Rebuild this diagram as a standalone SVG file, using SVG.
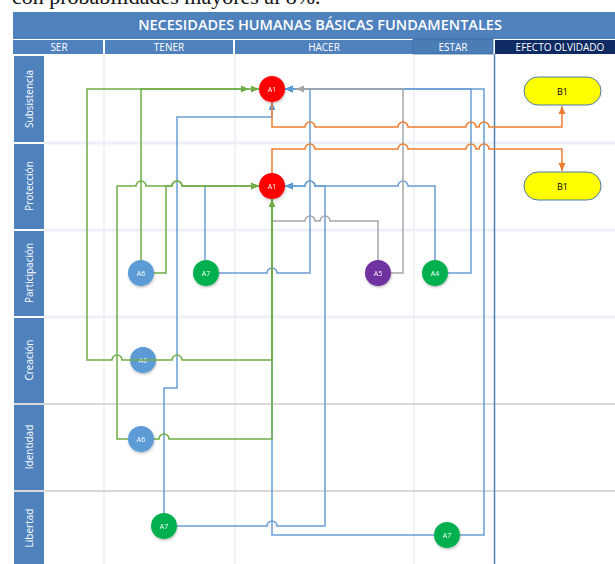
<svg xmlns="http://www.w3.org/2000/svg" width="615" height="564" viewBox="0 0 615 564">
<style>
.cap{font-family:"Liberation Serif",serif;font-size:22px;fill:#111}
.title{font-family:"Open Sans","Liberation Sans",sans-serif;font-size:14.5px;font-weight:600;fill:#fff;text-anchor:middle}
.col{font-family:"Open Sans","Liberation Sans",sans-serif;font-size:10px;fill:#fff;text-anchor:middle}
.row{font-family:"Open Sans","Liberation Sans",sans-serif;font-size:10px;fill:#fff;text-anchor:middle}
.nl{font-family:"Open Sans","Liberation Sans",sans-serif;font-size:7px;fill:#fff;text-anchor:middle;dominant-baseline:central}
.bl{font-family:"Open Sans","Liberation Sans",sans-serif;font-size:9px;fill:#000;text-anchor:middle;dominant-baseline:central}
.ln{fill:none;stroke-width:1.5;stroke-linejoin:miter}
.g{stroke:#70ad47}
.b{stroke:#6a9fd4}
.gr{stroke:#a6a6a6}
.o{stroke:#ed7d31}
.sepL{stroke:#edf1f7;stroke-width:3}
.sepD{stroke:#cccccc;stroke-width:1.5}
.vsep{stroke:#eff2f7;stroke-width:2}
</style>
<defs>
<filter id="sh" x="-30%" y="-30%" width="160%" height="160%"><feDropShadow dx="0.5" dy="1.5" stdDeviation="1.2" flood-color="#000" flood-opacity="0.25"/></filter>
<marker id="mg" markerWidth="8" markerHeight="8" refX="8" refY="4" orient="auto" markerUnits="userSpaceOnUse"><path d="M0,0.5 L8,4 L0,7.5 z" fill="#70ad47"/></marker>
<marker id="mb" markerWidth="8" markerHeight="8" refX="8" refY="4" orient="auto" markerUnits="userSpaceOnUse"><path d="M0,0.5 L8,4 L0,7.5 z" fill="#5b9bd5"/></marker>
<marker id="mgr" markerWidth="8" markerHeight="8" refX="8" refY="4" orient="auto" markerUnits="userSpaceOnUse"><path d="M0,0.5 L8,4 L0,7.5 z" fill="#a6a6a6"/></marker>
<marker id="mo" markerWidth="8" markerHeight="8" refX="8" refY="4" orient="auto" markerUnits="userSpaceOnUse"><path d="M0,0.5 L8,4 L0,7.5 z" fill="#ed7d31"/></marker>
</defs>
<rect x="0" y="0" width="615" height="564" fill="#fff"/>
<text class="cap" x="12" y="4">con probabilidades mayores al 8%.</text>

<g id="header">
<rect x="13" y="12" width="602" height="27" fill="#4f81bd"/>
<text class="title" x="320" y="30">NECESIDADES HUMANAS BÁSICAS FUNDAMENTALES</text>
<rect x="13" y="40" width="90" height="14" fill="#4f81bd"/>
<rect x="105" y="40" width="128" height="14" fill="#4f81bd"/>
<rect x="235" y="40" width="178" height="14" fill="#4f81bd"/>
<rect x="413" y="39" width="80" height="15" fill="#4a7cb6" stroke="#3e6a9e" stroke-width="0.8"/>
<rect x="495" y="40" width="120" height="14" fill="#0d2a63"/>
<text class="col" x="59" y="51">SER</text>
<text class="col" x="169" y="51">TENER</text>
<text class="col" x="324" y="51">HACER</text>
<text class="col" x="453" y="51">ESTAR</text>
<text class="col" x="560" y="51">EFECTO OLVIDADO</text>
</g>

<g id="grid">
<line class="vsep" x1="104" y1="55" x2="104" y2="564"/>
<line class="vsep" x1="235" y1="55" x2="235" y2="564"/>
<line class="vsep" x1="414" y1="55" x2="414" y2="564"/>
<line class="sepL" x1="44" y1="143" x2="615" y2="143"/>
<line class="sepL" x1="44" y1="230" x2="615" y2="230"/>
<line class="sepL" x1="44" y1="317" x2="615" y2="317"/>
<line class="sepD" x1="14" y1="404" x2="615" y2="404"/>
<line class="sepD" x1="14" y1="491" x2="615" y2="491"/>
<line x1="494.5" y1="54" x2="494.5" y2="564" stroke="#4f7fb8" stroke-width="1.5"/>
</g>

<g id="lanes">
<rect x="14" y="56" width="30" height="86" fill="#4f81bd"/>
<rect x="14" y="144" width="30" height="85" fill="#4f81bd"/>
<rect x="14" y="231" width="30" height="85" fill="#4f81bd"/>
<rect x="14" y="318" width="30" height="85" fill="#4f81bd"/>
<rect x="14" y="405" width="30" height="85" fill="#4f81bd"/>
<rect x="14" y="492" width="30" height="72" fill="#4f81bd"/>
<text class="row" transform="translate(33,99) rotate(-90)">Subsistencia</text>
<text class="row" transform="translate(33,186) rotate(-90)">Protección</text>
<text class="row" transform="translate(33,273) rotate(-90)">Participación</text>
<text class="row" transform="translate(33,360) rotate(-90)">Creación</text>
<text class="row" transform="translate(33,447) rotate(-90)">Identidad</text>
<text class="row" transform="translate(33,528) rotate(-90)">Libertad</text>
</g>

<g id="n-a6-creacion" filter="url(#sh)"><circle cx="143" cy="360" r="13" fill="#5b9bd5"/><text class="nl" x="143" y="360">A6</text></g>

<g id="connectors">
<path class="ln b" d="M434,535 H272 V199"/>
<path class="ln b" d="M164,513 V388 H177 V117 H272 V102" marker-end="url(#mb)"/>
<path class="ln b" d="M177,526 H267 a5,5 0 0 1 10,0 H325 V186 H315 a5,5 0 0 0 -10,0 H285" marker-end="url(#mb)"/>
<path class="ln b" d="M435,260 V186 H408 a5,5 0 0 0 -10,0 H315 a5,5 0 0 0 -10,0 H285" marker-end="url(#mb)"/>
<path class="ln b" d="M219,273 H267 a5,5 0 0 1 10,0 H310 V89 H285" marker-end="url(#mb)"/>
<path class="ln b" d="M448,273 H471 V89 H285" marker-end="url(#mb)"/>
<path class="ln b" d="M460,535 H484 V89 H285" marker-end="url(#mb)"/>
<path class="ln b" d="M205,260 V186"/>
<path class="ln gr" d="M391,273 H403 V89 H296" marker-end="url(#mgr)"/>
<path class="ln gr" d="M378,260 V221 H330 a5,5 0 0 0 -10,0 H315 a5,5 0 0 0 -10,0 H272"/>
<path class="ln o" d="M272,102 V127 H305 a5,5 0 0 1 10,0 H398 a5,5 0 0 1 10,0 H466 a5,5 0 0 1 10,0 H479 a5,5 0 0 1 10,0 H562 V106" marker-end="url(#mo)"/>
<path class="ln o" d="M272,173 V149 H305 a5,5 0 0 1 10,0 H398 a5,5 0 0 1 10,0 H466 a5,5 0 0 1 10,0 H479 a5,5 0 0 1 10,0 H562 V171" marker-end="url(#mo)"/>
<path class="ln g" d="M143,360 H122 a5,5 0 0 0 -10,0 H87 V89 H249" marker-end="url(#mg)"/>
<path class="ln g" d="M143,360 H172 a5,5 0 0 1 10,0 H272 V199" marker-end="url(#mg)"/>
<path class="ln g" d="M141,260 V89 H259" marker-end="url(#mg)"/>
<path class="ln g" d="M154,273 H166 V186 H172 a5,5 0 0 1 10,0 H259" marker-end="url(#mg)"/>
<path class="ln g" d="M128,439 H117 V186 H136 a5,5 0 0 1 10,0 H172 a5,5 0 0 1 10,0 H259" marker-end="url(#mg)"/>
<path class="ln g" d="M154,439 H159 a5,5 0 0 1 10,0 H272 V199"/>
</g>

<g id="n-a1-subsistencia" filter="url(#sh)"><circle cx="272" cy="89" r="13" fill="#ff0000"/><text class="nl" x="272" y="89">A1</text></g>
<g id="n-a1-proteccion" filter="url(#sh)"><circle cx="272" cy="186" r="13" fill="#ff0000"/><text class="nl" x="272" y="186">A1</text></g>
<g id="n-b1-top"><rect x="524" y="77" width="77" height="28" rx="14" fill="#ffff00" stroke="#4a7ab0" stroke-width="1"/><text class="bl" x="562.5" y="91">B1</text></g>
<g id="n-b1-bottom"><rect x="524" y="172" width="77" height="28" rx="14" fill="#ffff00" stroke="#4a7ab0" stroke-width="1"/><text class="bl" x="562.5" y="186">B1</text></g>
<g id="n-a6-participacion" filter="url(#sh)"><circle cx="141" cy="273" r="13" fill="#5b9bd5"/><text class="nl" x="141" y="273">A6</text></g>
<g id="n-a7-participacion" filter="url(#sh)"><circle cx="206" cy="273" r="13" fill="#00b050"/><text class="nl" x="206" y="273">A7</text></g>
<g id="n-a5" filter="url(#sh)"><circle cx="378" cy="273" r="13" fill="#7030a0"/><text class="nl" x="378" y="273">A5</text></g>
<g id="n-a4" filter="url(#sh)"><circle cx="435" cy="273" r="13" fill="#00b050"/><text class="nl" x="435" y="273">A4</text></g>
<g id="n-a6-identidad" filter="url(#sh)"><circle cx="141" cy="439" r="13" fill="#5b9bd5"/><text class="nl" x="141" y="439">A6</text></g>
<g id="n-a7-libertad" filter="url(#sh)"><circle cx="164" cy="526" r="13" fill="#00b050"/><text class="nl" x="164" y="526">A7</text></g>
<g id="n-a7-libertad-2" filter="url(#sh)"><circle cx="447" cy="535" r="13" fill="#00b050"/><text class="nl" x="447" y="535">A7</text></g>
</svg>
